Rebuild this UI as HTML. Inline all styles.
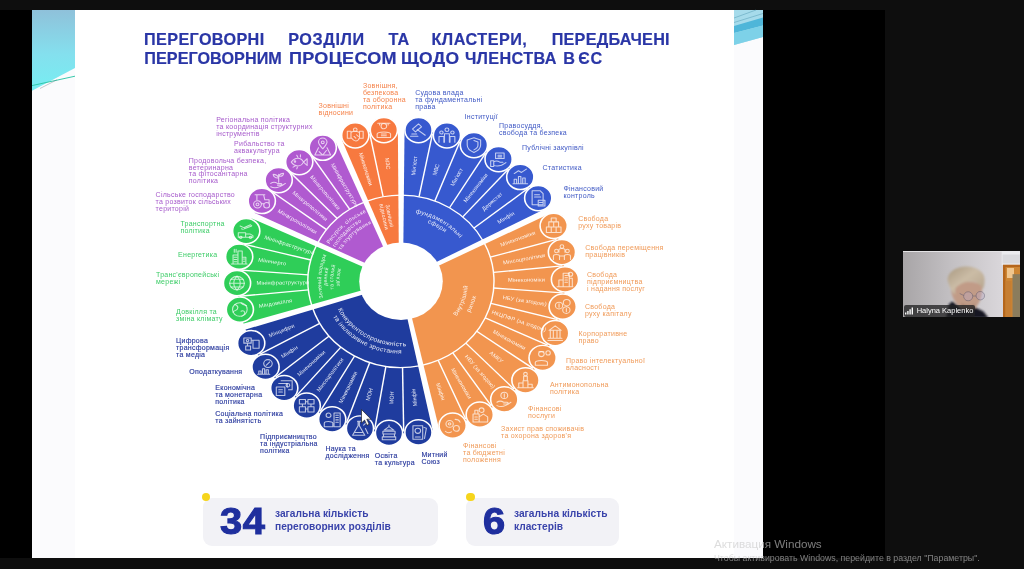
<!DOCTYPE html>
<html lang="uk"><head><meta charset="utf-8"><title>Переговорні розділи та кластери</title>
<style>
*{margin:0;padding:0;box-sizing:border-box}
html,body{width:1024px;height:569px;overflow:hidden;background:#000;font-family:"Liberation Sans",sans-serif}
.stage{position:absolute;left:0;top:0;width:1024px;height:569px;background:#000;overflow:hidden}
.bar-t{position:absolute;left:0;top:0;width:1024px;height:10px;background:#0e0e0e}
.bar-b{position:absolute;left:0;top:558px;width:1024px;height:11px;background:#0e0e0e}
.side{position:absolute;left:885px;top:0;width:139px;height:569px;background:#0e0e0e}
.slide{position:absolute;left:32px;top:10px;width:731px;height:548px;background:#fff}
.slide .l{position:absolute;left:0;top:0;width:43px;height:548px;background:#fbfbfd}
.slide .r{position:absolute;left:702px;top:0;width:29px;height:548px;background:#fbfbfd}
svg.dg,svg.deco{position:absolute;left:0;top:0}
svg.dg{filter:blur(0.35px)}
.lb,.title,.cap,.num{filter:blur(0.3px)}
.title{position:absolute;left:145px;top:29.7px;width:524.6px;color:#2a36a6;font-weight:bold;font-size:16.2px;line-height:18.8px;letter-spacing:0.25px;white-space:nowrap}
.tw{position:absolute;color:#2a36a6;font-weight:bold;font-size:16.2px;line-height:18.8px;white-space:nowrap;filter:blur(0.3px);-webkit-text-stroke:0.2px #2a36a6}
.title .a{text-align:justify;text-align-last:justify;height:18.8px}
.title .b{word-spacing:3.1px}
.lb{position:absolute;font-size:7px;letter-spacing:0.26px;white-space:nowrap;}
.lb.blue{color:#3f58c4}
.lb.orange{color:#f09a58}
.lb.navy{color:#2a3a9e;-webkit-text-stroke:0.15px #2a3a9e}
.lb.green{color:#3bcc66}
.lb.purple{color:#a65acb}
.lb.red{color:#f58148}
.pill{position:absolute;top:498.3px;height:48.2px;background:#f2f2f6;border-radius:9px}
.dot{position:absolute;width:8.2px;height:8.2px;border-radius:50%;background:#f6d51c}
.num{position:absolute;color:#1f2f9e;font-weight:bold;font-size:37.6px;line-height:38px;letter-spacing:0.6px;-webkit-text-stroke:1.1px #1f2f9e;transform:scaleX(1.06);transform-origin:0 0}
.cap{position:absolute;color:#3a44ab;font-weight:bold;font-size:10.2px;line-height:13.2px;white-space:nowrap}
.cam{position:absolute;left:903.2px;top:250.8px;width:117.1px;height:66.3px;overflow:hidden;background:#bdb9bb}
.nm{position:absolute;left:0.4px;top:54.700px;width:71.600px;height:11.600px;background:rgba(34,34,36,.78);border-radius:2px;color:#fff;font-size:7.5px;line-height:11.300px;padding-left:13.100px;white-space:nowrap}
.wm1{position:absolute;left:714px;top:536.5px;font-size:11.7px;color:rgba(200,200,200,.62);white-space:nowrap}
.wm2{position:absolute;left:714px;top:552.5px;font-size:8.8px;color:rgba(200,200,200,.62);white-space:nowrap}
</style></head>
<body><div class="stage">
<div class="bar-t"></div><div class="bar-b"></div><div class="side"></div>
<div class="slide"><div class="l"></div><div class="r"></div></div>
<svg class="deco" width="1024" height="569" viewBox="0 0 1024 569">
<defs><linearGradient id="cy" x1="0" y1="0" x2="0" y2="1"><stop offset="0" stop-color="#8fc1da"/><stop offset="0.55" stop-color="#84e0ee"/><stop offset="1" stop-color="#76eef2"/></linearGradient></defs>
<path d="M32 10H75V68L32 90.800Z" fill="url(#cy)"/>
<path d="M32 85.600L75 76.200" stroke="#2ec6a6" stroke-width="0.95" fill="none"/>
<path d="M40 88.500L57 79.800" stroke="#6b7a86" stroke-width="0.4" fill="none"/>
<path d="M734 10H763V37L734 45Z" fill="#a6dbeb"/>
<path d="M734 26L763 17.500V25.500L734 33Z" fill="#4fb6d9"/>
<path d="M734 33L763 25.500V37L734 45Z" fill="#7dd1e8"/>
<path d="M734 18L756 10M734 22.500L763 13.500" stroke="#4a93ad" stroke-width="0.45" fill="none"/>
</svg>
<div class="ttl"><span class="tw" style="left:144.1px;top:29.7px;letter-spacing:0.36px">ПЕРЕГОВОРНІ</span> <span class="tw" style="left:288.2px;top:29.7px;letter-spacing:0.6px">РОЗДІЛИ</span> <span class="tw" style="left:388.5px;top:29.7px;letter-spacing:0.15px">ТА</span> <span class="tw" style="left:431.5px;top:29.7px;letter-spacing:0.49px">КЛАСТЕРИ,</span> <span class="tw" style="left:551.7px;top:29.7px;letter-spacing:0.25px">ПЕРЕДБАЧЕНІ</span> <span class="tw" style="left:144.3px;top:48.5px;letter-spacing:0.04px">ПЕРЕГОВОРНИМ</span> <span class="tw" style="left:288.5px;top:48.5px;letter-spacing:0.25px;transform:scaleX(1.115);transform-origin:0 0">ПРОЦЕСОМ</span> <span class="tw" style="left:401.2px;top:48.5px;letter-spacing:0.25px;transform:scaleX(1.08);transform-origin:0 0">ЩОДО</span> <span class="tw" style="left:464.9px;top:48.5px;letter-spacing:0.36px">ЧЛЕНСТВА</span> <span class="tw" style="left:563.2px;top:48.5px;letter-spacing:0px">В</span> <span class="tw" style="left:578.3px;top:48.5px;letter-spacing:0.6px">ЄС</span> </div>
<svg class="dg" width="1024" height="569" viewBox="0 0 1024 569">
<g transform="translate(401.0 281.3) scale(1 0.927)">
<path d="M0 0L0.2 -164A164 164 0 0 1 145.73 -75.22Z" fill="#3759cf"/>
<path d="M0 0L145.73 -75.22A164 164 0 0 1 34.94 160.24Z" fill="#f2954f"/>
<path d="M0 0L34.94 160.24A164 164 0 0 1 -156.54 48.91Z" fill="#1f3c9e"/>
<path d="M0 0L-156.54 48.91A164 164 0 0 1 -147.9 -70.86Z" fill="#2fce58"/>
<path d="M0 0L-147.9 -70.86A164 164 0 0 1 -62.36 -151.68Z" fill="#b05ad0"/>
<path d="M0 0L-62.36 -151.68A164 164 0 0 1 0.2 -164Z" fill="#f7793f"/>
<g stroke="#fff" stroke-width="1.45" fill="none" stroke-linecap="butt">
<path d="M0.11 -93A93 93 0 0 1 82.64 -42.65"/>
<path d="M18.06 -91.23L31.46 -158.92"/>
<path d="M33.83 -86.63L58.93 -150.9"/>
<path d="M48.54 -79.33L84.56 -138.18"/>
<path d="M61.74 -69.55L107.55 -121.15"/>
<path d="M73.02 -57.6L127.19 -100.33"/>
<path d="M82.64 -42.65A93 93 0 0 1 19.81 90.87"/>
<path d="M89.29 -25.99L155.54 -45.28"/>
<path d="M92.51 -9.55L161.14 -16.63"/>
<path d="M92.72 7.21L161.51 12.55"/>
<path d="M89.92 23.73L156.64 41.33"/>
<path d="M84.2 39.48L146.68 68.77"/>
<path d="M75.75 53.95L131.96 93.98"/>
<path d="M64.84 66.67L112.95 116.13"/>
<path d="M51.83 77.22L90.28 134.51"/>
<path d="M37.13 85.27L64.67 148.53"/>
<path d="M19.81 90.87A93 93 0 0 1 -88.77 27.73"/>
<path d="M1.54 92.99L2.69 161.98"/>
<path d="M-15.11 91.76L-26.32 159.85"/>
<path d="M-31.27 87.58L-54.48 152.57"/>
<path d="M-46.43 80.58L-80.88 140.37"/>
<path d="M-60.09 70.98L-104.67 123.64"/>
<path d="M-71.81 59.09L-125.09 102.94"/>
<path d="M-81.22 45.3L-141.48 78.91"/>
<path d="M-88.77 27.73A93 93 0 0 1 -83.87 -40.18"/>
<path d="M-92.54 9.24L-161.2 16.09"/>
<path d="M-92.74 -6.97L-161.54 -12.15"/>
<path d="M-90.12 -22.97L-156.98 -40.01"/>
<path d="M-83.87 -40.18A93 93 0 0 1 -35.36 -86.01"/>
<path d="M-74.44 -55.75L-129.66 -97.12"/>
<path d="M-63.78 -67.68L-111.1 -117.9"/>
<path d="M-51.24 -77.61L-89.26 -135.19"/>
<path d="M-35.36 -86.01A93 93 0 0 1 0.11 -93"/>
<path d="M-17.9 -91.26L-31.19 -158.97"/>
</g>
<g fill="#fff">
<path d="M0.89 1.73L163.34 -80.36L160.12 -86.59L-0.89 -1.73Z"/>
<path d="M-1.91 0.42L35.35 178.57L42.2 177.08L1.91 -0.42Z"/>
<path d="M-0.58 -1.86L-174.76 50.93L-172.67 57.62L0.58 1.86Z"/>
<path d="M0.84 -1.76L-162.62 -81.8L-165.65 -75.48L-0.84 1.76Z"/>
<path d="M1.8 -0.74L-65.97 -169.66L-72.45 -166.99L-1.8 0.74Z"/>
<path d="M1.95 0L3.73 -182L-3.28 -182L-1.95 -0Z"/>
</g>
<circle cx="17.51" cy="-163.06" r="13.6" fill="#3759cf" stroke="#fff" stroke-width="1.6"/>
<g transform="translate(17.51 -163.06)" fill="none" stroke="#fff" stroke-opacity="0.7" stroke-width="0.9" stroke-linejoin="round" stroke-linecap="round"><g transform="scale(1.22)"><path d="M-5 -1l5 -4.5 2.5 2.5 -5 4.5zM-1 -0.5l6.5 5M-6.5 5.5h6M-5.5 3.5h4"/></g></g>
<circle cx="45.93" cy="-157.44" r="13.6" fill="#3759cf" stroke="#fff" stroke-width="1.6"/>
<g transform="translate(45.93 -157.44)" fill="none" stroke="#fff" stroke-opacity="0.7" stroke-width="0.9" stroke-linejoin="round" stroke-linecap="round"><g transform="scale(1.22)"><circle cx="0" cy="-5" r="1.6"/><circle cx="-4.5" cy="-2.5" r="1.4"/><circle cx="4.5" cy="-2.5" r="1.4"/><path d="M-6.5 6v-5h4v5M-2 6v-7.5h4v7.5M2.5 6v-5h4v5"/></g></g>
<circle cx="72.92" cy="-146.9" r="13.6" fill="#3759cf" stroke="#fff" stroke-width="1.6"/>
<g transform="translate(72.92 -146.9)" fill="none" stroke="#fff" stroke-opacity="0.7" stroke-width="0.9" stroke-linejoin="round" stroke-linecap="round"><g transform="scale(1.22)"><path d="M0 -6.5l5.5 2v4.5c0 3.5 -3 5.5 -5.5 6.5c-2.500 -1 -5.5 -3 -5.5 -6.5v-4.500zM0 -4l3.300 1.200v3c0 2 -1.700 3.300 -3.300 4"/></g></g>
<circle cx="97.62" cy="-131.78" r="13.6" fill="#3759cf" stroke="#fff" stroke-width="1.6"/>
<g transform="translate(97.62 -131.78)" fill="none" stroke="#fff" stroke-opacity="0.7" stroke-width="0.9" stroke-linejoin="round" stroke-linecap="round"><g transform="scale(1.22)"><path d="M-6.500 1.500h2.500v5h-2.500zM-4 2.500c2 -1.500 4 -0.500 5 0.200h2.500M-4 5.500c3 1.200 6 0.800 10 -2.500M-2.500 -5.500h7v5h-7zM-0.500 -3.500h3M-0.500 -2h3"/></g></g>
<circle cx="119.29" cy="-112.55" r="13.6" fill="#3759cf" stroke="#fff" stroke-width="1.6"/>
<g transform="translate(119.29 -112.55)" fill="none" stroke="#fff" stroke-opacity="0.7" stroke-width="0.9" stroke-linejoin="round" stroke-linecap="round"><g transform="scale(1.22)"><path d="M-6 6h12M-5 6v-4h2v4M-1.500 6v-6.500h2v6.500M2 6v-5h2v5M-5 -3l3.500 -2.500 2.500 1.500 4 -3"/></g></g>
<circle cx="137.23" cy="-89.8" r="13.6" fill="#3759cf" stroke="#fff" stroke-width="1.6"/>
<g transform="translate(137.23 -89.8)" fill="none" stroke="#fff" stroke-opacity="0.7" stroke-width="0.9" stroke-linejoin="round" stroke-linecap="round"><g transform="scale(1.22)"><path d="M-5 -6.500h6.500l2.500 2.500v10h-9zM-3 -3h4M-3 -1h5M0 2h5.500v5h-5.500zM1 4h3"/></g></g>
<circle cx="152.69" cy="-59.84" r="13.6" fill="#f2954f" stroke="#fff" stroke-width="1.6"/>
<g transform="translate(152.69 -59.84)" fill="none" stroke="#fff" stroke-opacity="0.7" stroke-width="0.9" stroke-linejoin="round" stroke-linecap="round"><g transform="scale(1.22)"><path d="M-6 6v-5h4v5zM-2 6v-5h4v5zM2 6v-5h4v5zM-4 1v-4.500h4v4.500M0 1v-4.500h4v4.500M-2 -3.500v-3.500h4v3.500"/></g></g>
<circle cx="160.95" cy="-31.47" r="13.6" fill="#f2954f" stroke="#fff" stroke-width="1.6"/>
<g transform="translate(160.95 -31.47)" fill="none" stroke="#fff" stroke-opacity="0.7" stroke-width="0.9" stroke-linejoin="round" stroke-linecap="round"><g transform="scale(1.22)"><circle cx="0" cy="-5" r="1.500"/><circle cx="-4.500" cy="-1" r="1.500"/><circle cx="4.500" cy="-1" r="1.500"/><path d="M-2.500 0v-2c0 -1.500 5 -1.500 5 0v2M-7 6.500v-3c0 -1.800 5 -1.800 5 0v3M2 6.500v-3c0 -1.800 5 -1.800 5 0v3M-1.500 3.500h3"/></g></g>
<circle cx="163.99" cy="-2.07" r="13.6" fill="#f2954f" stroke="#fff" stroke-width="1.6"/>
<g transform="translate(163.99 -2.07)" fill="none" stroke="#fff" stroke-opacity="0.7" stroke-width="0.9" stroke-linejoin="round" stroke-linecap="round"><g transform="scale(1.22)"><path d="M-6.500 6.500h13M-5 6.500v-6h3.500v6M-1.500 6.500v-12h5v12M3.500 6.500v-7.500h2.500v7.500M0 -3.500h2M0 -1.500h2M0 0.500h2M0 2.500h2"/><circle cx="4.500" cy="-4.500" r="1.800"/></g></g>
<circle cx="161.7" cy="27.39" r="13.6" fill="#f2954f" stroke="#fff" stroke-width="1.6"/>
<g transform="translate(161.7 27.39)" fill="none" stroke="#fff" stroke-opacity="0.7" stroke-width="0.9" stroke-linejoin="round" stroke-linecap="round"><g transform="scale(1.22)"><circle cx="-3" cy="-1" r="3"/><circle cx="3.300" cy="-3.500" r="2.800"/><circle cx="3" cy="3" r="3"/><path d="M-3 -2.500v3M3 1.500v3"/></g></g>
<circle cx="154.16" cy="55.96" r="13.6" fill="#f2954f" stroke="#fff" stroke-width="1.6"/>
<g transform="translate(154.16 55.96)" fill="none" stroke="#fff" stroke-opacity="0.7" stroke-width="0.9" stroke-linejoin="round" stroke-linecap="round"><g transform="scale(1.22)"><path d="M-6 6.500h12M-5.500 4.500h11M-5 -2.500h10l-5 -4zM-4 -2.500v7M-1.500 -2.500v7M1.500 -2.500v7M4 -2.500v7"/></g></g>
<circle cx="141.61" cy="82.72" r="13.6" fill="#f2954f" stroke="#fff" stroke-width="1.6"/>
<g transform="translate(141.61 82.72)" fill="none" stroke="#fff" stroke-opacity="0.7" stroke-width="0.9" stroke-linejoin="round" stroke-linecap="round"><g transform="scale(1.22)"><circle cx="-1" cy="-3.500" r="2.300"/><path d="M-6 6.500v-2.500c0 -2.500 10 -2.500 10 0v2.500zM-3 -5.500h4"/><circle cx="4.500" cy="-4.500" r="1.800"/></g></g>
<circle cx="124.47" cy="106.78" r="13.6" fill="#f2954f" stroke="#fff" stroke-width="1.6"/>
<g transform="translate(124.47 106.78)" fill="none" stroke="#fff" stroke-opacity="0.7" stroke-width="0.9" stroke-linejoin="round" stroke-linecap="round"><g transform="scale(1.22)"><circle cx="0" cy="-5.500" r="1.500"/><path d="M-1.500 -3.500h3v4h-3zM-6.500 6.500h13M-5.500 6.500v-4h3.500v4M-2 6.500v-6h4v6M2 6.500v-3h3.500v3"/></g></g>
<circle cx="103.29" cy="127.39" r="13.6" fill="#f2954f" stroke="#fff" stroke-width="1.6"/>
<g transform="translate(103.29 127.39)" fill="none" stroke="#fff" stroke-opacity="0.7" stroke-width="0.9" stroke-linejoin="round" stroke-linecap="round"><g transform="scale(1.22)"><circle cx="0" cy="-3.500" r="2.800"/><path d="M0 -5v3M-6 2.500c2 -1.500 4 -1 5.500 0h2.500c1.500 0 1.500 1.500 0 1.500h-2.500M-6 5.500c3 1.500 7 1 11.500 -3"/></g></g>
<circle cx="78.75" cy="143.86" r="13.6" fill="#f2954f" stroke="#fff" stroke-width="1.6"/>
<g transform="translate(78.75 143.86)" fill="none" stroke="#fff" stroke-opacity="0.7" stroke-width="0.9" stroke-linejoin="round" stroke-linecap="round"><g transform="scale(1.22)"><path d="M-5.500 6.500v-7h5v7zM-0.500 6.500v-4.500l3.500 -2.500 3.500 2.500v4.500zM-4 -0.500v-3.500h2.500v3.500"/><circle cx="1.500" cy="-4" r="2"/><path d="M-4 2h2M-4 4h2"/></g></g>
<circle cx="51.66" cy="155.65" r="13.6" fill="#f2954f" stroke="#fff" stroke-width="1.6"/>
<g transform="translate(51.66 155.65)" fill="none" stroke="#fff" stroke-opacity="0.7" stroke-width="0.9" stroke-linejoin="round" stroke-linecap="round"><g transform="scale(1.22)"><circle cx="-2.500" cy="-1.500" r="3"/><circle cx="-2.500" cy="-1.500" r="1"/><circle cx="3" cy="2.500" r="2.500"/><path d="M-6 5c1.500 1.500 3.500 1.500 5 0.500M2 -5.500c2 0 3.500 1 4 2.500"/></g></g>
<circle cx="17.43" cy="163.07" r="13.6" fill="#1f3c9e" stroke="#fff" stroke-width="1.6"/>
<g transform="translate(17.43 163.07)" fill="none" stroke="#fff" stroke-opacity="0.7" stroke-width="0.9" stroke-linejoin="round" stroke-linecap="round"><g transform="scale(1.22)"><path d="M-4.500 -6h8v12h-8zM-2.500 4h4"/><circle cx="-0.500" cy="-1.500" r="2.300"/><path d="M4.500 -4.500l2 0.800 -1.500 9"/></g></g>
<circle cx="-12.01" cy="163.56" r="13.6" fill="#1f3c9e" stroke="#fff" stroke-width="1.6"/>
<g transform="translate(-12.01 163.56)" fill="none" stroke="#fff" stroke-opacity="0.7" stroke-width="0.9" stroke-linejoin="round" stroke-linecap="round"><g transform="scale(1.22)"><path d="M-5.500 6h11v-2.500h-11zM-4.500 3.500h9v-2.500h-9zM-5 1h10v-2.500h-10zM-4 -2.500l4 -3 4 3zM0 -5.500v-1.500"/></g></g>
<circle cx="-41.06" cy="158.78" r="13.6" fill="#1f3c9e" stroke="#fff" stroke-width="1.6"/>
<g transform="translate(-41.06 158.78)" fill="none" stroke="#fff" stroke-opacity="0.7" stroke-width="0.9" stroke-linejoin="round" stroke-linecap="round"><g transform="scale(1.22)"><path d="M-2 -6.500h3M-1.500 -6.500v4l-4.500 8.500h10l-4.500 -8.500v-4M-4.500 3.500h7M3 -3l2 -2M4.500 0l2 4.500"/></g></g>
<circle cx="-68.79" cy="148.88" r="13.6" fill="#1f3c9e" stroke="#fff" stroke-width="1.6"/>
<g transform="translate(-68.79 148.88)" fill="none" stroke="#fff" stroke-opacity="0.7" stroke-width="0.9" stroke-linejoin="round" stroke-linecap="round"><g transform="scale(1.22)"><circle cx="-3" cy="-3.500" r="2"/><path d="M-6.500 6.500v-3c0 -2 7 -2 7 0v3zM1.500 6.500v-12h5v12zM3 -3.500h2M3 -1.500h2M3 0.500h2M3 2.500h2"/></g></g>
<circle cx="-94.3" cy="134.18" r="13.6" fill="#1f3c9e" stroke="#fff" stroke-width="1.6"/>
<g transform="translate(-94.3 134.18)" fill="none" stroke="#fff" stroke-opacity="0.7" stroke-width="0.9" stroke-linejoin="round" stroke-linecap="round"><g transform="scale(1.22)"><path d="M-6 -5.500h5v4h-5zM1 -5.500h5v4h-5zM-6 1h5v4.500h-5zM1 1h5v4.500h-5zM-1 -3.500h2M-1 3h2M-3.500 -1.500v2.500M3.500 -1.500v2.500"/></g></g>
<circle cx="-116.77" cy="115.15" r="13.6" fill="#1f3c9e" stroke="#fff" stroke-width="1.6"/>
<g transform="translate(-116.77 115.15)" fill="none" stroke="#fff" stroke-opacity="0.7" stroke-width="0.9" stroke-linejoin="round" stroke-linecap="round"><g transform="scale(1.22)"><path d="M-6.500 -1h7v7.500h-7zM-4.500 -4h7v3M-2.500 -6.500h9v8h-3M-4.500 1.500h3M-4.500 3.500h3"/><circle cx="3" cy="-2.500" r="1.500"/></g></g>
<circle cx="-135.48" cy="92.42" r="13.6" fill="#1f3c9e" stroke="#fff" stroke-width="1.6"/>
<g transform="translate(-135.48 92.42)" fill="none" stroke="#fff" stroke-opacity="0.7" stroke-width="0.9" stroke-linejoin="round" stroke-linecap="round"><g transform="scale(1.22)"><circle cx="2" cy="-3" r="3.500"/><path d="M0.500 -1.500l3 -3M-6.500 6.500h10M-5.500 6.500v-3h1.800v3M-2.500 6.500v-5h1.800v5M0.500 6.500v-4h1.800v4"/></g></g>
<circle cx="-149.82" cy="66.7" r="13.6" fill="#1f3c9e" stroke="#fff" stroke-width="1.6"/>
<g transform="translate(-149.82 66.7)" fill="none" stroke="#fff" stroke-opacity="0.7" stroke-width="0.9" stroke-linejoin="round" stroke-linecap="round"><g transform="scale(1.22)"><path d="M-6 -4.500h6v4.500h-6zM1.500 -2.500h5v7h-5zM-4.500 2.500h4v3.500h-4zM-3 0v2.500M0 -2.500h1.500"/><circle cx="-3" cy="-2.300" r="1"/></g></g>
<circle cx="-161.15" cy="30.45" r="13.6" fill="#2fce58" stroke="#fff" stroke-width="1.6"/>
<g transform="translate(-161.15 30.45)" fill="none" stroke="#fff" stroke-opacity="0.7" stroke-width="0.9" stroke-linejoin="round" stroke-linecap="round"><g transform="scale(1.22)"><circle cx="0" cy="0" r="6"/><path d="M-4 -4.500c2 1 3 2 2 4s-3 1 -3.500 3M1 -6c1 2 3 2 4.500 2.500M1 1.500c1.500 -1 3.500 0 3 2s-2 2 -2.500 2.500"/></g></g>
<circle cx="-163.99" cy="2" r="13.6" fill="#2fce58" stroke="#fff" stroke-width="1.6"/>
<g transform="translate(-163.99 2)" fill="none" stroke="#fff" stroke-opacity="0.7" stroke-width="0.9" stroke-linejoin="round" stroke-linecap="round"><g transform="scale(1.22)"><circle cx="0" cy="0" r="6"/><path d="M-6 0h12M0 -6c-3.500 3 -3.500 9 0 12M0 -6c3.500 3 3.500 9 0 12M-5 -3.500h10M-5 3.500h10"/></g></g>
<circle cx="-161.84" cy="-26.5" r="13.6" fill="#2fce58" stroke="#fff" stroke-width="1.6"/>
<g transform="translate(-161.84 -26.5)" fill="none" stroke="#fff" stroke-opacity="0.7" stroke-width="0.9" stroke-linejoin="round" stroke-linecap="round"><g transform="scale(1.22)"><path d="M-6.500 6.500h13M-5 6.500v-8h4v8M-1 6.500v-11.500h3.500v11.500M2.500 6.500v-6h3v6M-4 -4v-2.500M-2.500 -4v-2.500M-4 0.500h2M-4 2.500h2M-4 4.500h2M3.500 2h1M3.500 4h1"/></g></g>
<circle cx="-154.78" cy="-54.2" r="13.6" fill="#2fce58" stroke="#fff" stroke-width="1.6"/>
<g transform="translate(-154.78 -54.2)" fill="none" stroke="#fff" stroke-opacity="0.7" stroke-width="0.9" stroke-linejoin="round" stroke-linecap="round"><g transform="scale(1.22)"><path d="M-6.500 5.500v-4h6v4zM-0.500 5.500v-3h3.500l2.500 1.500v1.500zM-5 -4.500l3 1.500 5.500 -2.500 1 1 -6 2.500M-4 -2l1.500 0.500"/><circle cx="-4.500" cy="5.500" r="1"/><circle cx="3.500" cy="5.500" r="1"/></g></g>
<circle cx="-139.23" cy="-86.66" r="13.6" fill="#b05ad0" stroke="#fff" stroke-width="1.6"/>
<g transform="translate(-139.23 -86.66)" fill="none" stroke="#fff" stroke-opacity="0.7" stroke-width="0.9" stroke-linejoin="round" stroke-linecap="round"><g transform="scale(1.22)"><circle cx="-3.500" cy="3" r="3.200"/><circle cx="-3.500" cy="3" r="1.200"/><circle cx="4" cy="3.800" r="2.400"/><path d="M-4 -1v-4.500h5.500l1 4.500h3.500v2.500M-5.500 -5.500h8M0 2.500h1.500"/></g></g>
<circle cx="-122.32" cy="-109.24" r="13.6" fill="#b05ad0" stroke="#fff" stroke-width="1.6"/>
<g transform="translate(-122.32 -109.24)" fill="none" stroke="#fff" stroke-opacity="0.7" stroke-width="0.9" stroke-linejoin="round" stroke-linecap="round"><g transform="scale(1.22)"><path d="M0 2v-7M0 -2c-1 -2.500 -3 -3 -4.500 -3c0 2 2 3.500 4.500 3zM0 -3.500c1 -2 2.500 -2.500 4 -2.500c0 1.800 -1.500 3.200 -4 2.500zM-6.500 3c2 -1.500 4 -1 5.500 0h2.500c1.500 0 1.500 1.500 0 1.500h-2.500M-6.500 6c3 1.500 7 1 12 -3"/></g></g>
<circle cx="-101.79" cy="-128.58" r="13.6" fill="#b05ad0" stroke="#fff" stroke-width="1.6"/>
<g transform="translate(-101.79 -128.58)" fill="none" stroke="#fff" stroke-opacity="0.7" stroke-width="0.9" stroke-linejoin="round" stroke-linecap="round"><g transform="scale(1.22)"><path d="M-6.500 0c3 -4.500 8 -4.500 10 0c-2 4.500 -7 4.500 -10 0zM3.500 0l3 -3v6zM-2 -6l1 2M1 -6.500l0 2M-5 4.500l1.500 -1M-2 6l0.500 -1.500"/><circle cx="-3.500" cy="-0.500" r="0.600"/></g></g>
<circle cx="-78.25" cy="-144.13" r="13.6" fill="#b05ad0" stroke="#fff" stroke-width="1.6"/>
<g transform="translate(-78.25 -144.13)" fill="none" stroke="#fff" stroke-opacity="0.7" stroke-width="0.9" stroke-linejoin="round" stroke-linecap="round"><g transform="scale(1.22)"><path d="M0 1c-3 -3.500 -3.500 -5 -3.500 -6a3.500 3.500 0 0 1 7 0c0 1 -0.500 2.500 -3.500 6zM-3.500 0l-3 6.500h13l-3 -6.500M-3 3.500l3 3 3 -4"/><circle cx="0" cy="-4.800" r="1.200"/></g></g>
<circle cx="-45.75" cy="-157.49" r="13.6" fill="#f7793f" stroke="#fff" stroke-width="1.6"/>
<g transform="translate(-45.75 -157.49)" fill="none" stroke="#fff" stroke-opacity="0.7" stroke-width="0.9" stroke-linejoin="round" stroke-linecap="round"><g transform="scale(1.22)"><path d="M-6.500 -3.500h3v6h-3zM3.500 -3.500h3v6h-3zM-3.500 -2.500c2 -1.500 4 -1.500 7 0M-3.500 2c1.500 2 3 3 4 3s2.500 -1.500 3 -3M-1 1l1.500 1.500M1 -0.500l1.500 1.500"/><circle cx="0" cy="-5" r="1.500"/></g></g>
<circle cx="-17.14" cy="-163.1" r="13.6" fill="#f7793f" stroke="#fff" stroke-width="1.6"/>
<g transform="translate(-17.14 -163.1)" fill="none" stroke="#fff" stroke-opacity="0.7" stroke-width="0.9" stroke-linejoin="round" stroke-linecap="round"><g transform="scale(1.22)"><circle cx="0" cy="-3.500" r="2.300"/><path d="M-5 -6h10M-3.500 -6v1.500M3.500 -6v1.500M-5.500 6.500v-3c0 -2.500 11 -2.500 11 0v3zM-2 3.500h4M-2 5h4"/></g></g>
<circle cx="0" cy="0" r="41.8" fill="#fff"/>
<g font-family="'Liberation Sans',sans-serif" font-size="5.7" fill="#fff" fill-opacity="0.9" letter-spacing="0.15">
<text text-anchor="middle" transform="rotate(-83.87) translate(125.5 1.9)">Мін'юст</text>
<text text-anchor="middle" transform="rotate(-73.74) translate(125.5 1.9)">МВС</text>
<text text-anchor="middle" transform="rotate(-63.6) translate(125.5 1.9)">Мін'юст</text>
<text text-anchor="middle" transform="rotate(-53.47) translate(125.5 1.9)">Мінекономіки</text>
<text text-anchor="middle" transform="rotate(-43.33) translate(125.5 1.9)">Держстат</text>
<text text-anchor="middle" transform="rotate(-33.2) translate(125.5 1.9)">Мінфін</text>
<text text-anchor="middle" transform="rotate(-21.4) translate(125.5 1.9)">Мінекономіки</text>
<text text-anchor="middle" transform="rotate(-11.06) translate(125.5 1.9)">Мінсоцполітики</text>
<text text-anchor="middle" transform="rotate(-0.72) translate(125.5 1.9)">Мінекономіки</text>
<text text-anchor="middle" transform="rotate(9.61) translate(125.5 1.9)">НБУ (за згодою)</text>
<text text-anchor="middle" transform="rotate(19.95) translate(125.5 1.9)">НКЦПФР (за згодою)</text>
<text text-anchor="middle" transform="rotate(30.29) translate(125.5 1.9)">Мінекономіки</text>
<text text-anchor="middle" transform="rotate(40.63) translate(125.5 1.9)">АМКУ</text>
<text text-anchor="middle" transform="rotate(50.96) translate(125.5 1.9)">НБУ (за згодою)</text>
<text text-anchor="middle" transform="rotate(61.3) translate(125.5 1.9)">Мінекономіки</text>
<text text-anchor="middle" transform="rotate(71.64) translate(125.5 1.9)">Мінфін</text>
<text text-anchor="middle" transform="rotate(263.9) translate(-126 1.9)">Мінфін</text>
<text text-anchor="middle" transform="rotate(274.2) translate(-126 1.9)">МОН</text>
<text text-anchor="middle" transform="rotate(284.5) translate(-126 1.9)">МОН</text>
<text text-anchor="start" transform="rotate(294.8) translate(-144.5 1.9)">Мінекономіки</text>
<text text-anchor="start" transform="rotate(305.1) translate(-144.5 1.9)">Мінсоцполітики</text>
<text text-anchor="start" transform="rotate(315.4) translate(-144.5 1.9)">Мінекономіки</text>
<text text-anchor="start" transform="rotate(325.7) translate(-144.5 1.9)">Мінфін</text>
<text text-anchor="start" transform="rotate(336) translate(-144.5 1.9)">Мінцифри</text>
<text text-anchor="start" transform="rotate(349.3) translate(-144.5 1.9)">Міндовкілля</text>
<text text-anchor="start" transform="rotate(359.3) translate(-144.5 1.9)">Мінінфраструктури</text>
<text text-anchor="start" transform="rotate(369.3) translate(-144.5 1.9)">Міненерго</text>
<text text-anchor="start" transform="rotate(379.3) translate(-144.5 1.9)">Мінінфраструктури</text>
<text text-anchor="start" transform="rotate(391.9) translate(-144.5 1.9)">Мінагрополітики</text>
<text text-anchor="start" transform="rotate(401.77) translate(-144.5 1.9)">Мінагрополітики</text>
<text text-anchor="start" transform="rotate(411.63) translate(-144.5 1.9)">Мінагрополітики</text>
<text text-anchor="start" transform="rotate(421.5) translate(-144.5 1.9)">Мінінфраструктури</text>
<text text-anchor="start" transform="rotate(433.8) translate(-144.5 1.9)">Мінекономіки</text>
<text text-anchor="middle" transform="rotate(444) translate(-127.5 1.9)">МЗС</text>
</g>
<defs>
<path id="pb1" d="M-11.22 -74.16A75 75 0 0 1 71.08 -23.92"/>
<path id="pb2" d="M-10.24 -67.73A68.5 68.5 0 0 1 64.92 -21.85"/>
<path id="pp1" d="M-71.51 -40.13A82 82 0 0 1 -14.24 -80.75"/>
<path id="pp2" d="M-65.67 -36.85A75.3 75.3 0 0 1 -13.08 -74.16"/>
<path id="pp3" d="M-60 -33.67A68.8 68.8 0 0 1 -11.95 -67.75"/>
<path id="po1" d="M34.51 57.43A67 67 0 0 0 62.55 -24.01"/>
<path id="po2" d="M39.55 65.83A76.8 76.8 0 0 0 71.7 -27.52"/>
<path id="pn1" d="M-69.73 6.1A70 70 0 0 0 29.58 63.44"/>
<path id="pn2" d="M-77.7 6.8A78 78 0 0 0 32.96 70.69"/>
<path id="pg1" d="M-64.56 46.91A79.8 79.8 0 0 1 -57.4 -55.43"/>
<path id="pg2" d="M-59.87 43.5A74 74 0 0 1 -53.23 -51.4"/>
<path id="pg3" d="M-54.85 39.85A67.8 67.8 0 0 1 -48.77 -47.1"/>
<path id="pg4" d="M-49.75 36.15A61.5 61.5 0 0 1 -44.24 -42.72"/>
</defs>
<g font-family="'Liberation Sans',sans-serif" fill="#fff" fill-opacity="0.9" letter-spacing="0.32">
<text font-size="6.3" text-anchor="middle"><textPath href="#pb1" startOffset="50%">фундаментальні</textPath></text>
<text font-size="6.3" text-anchor="middle"><textPath href="#pb2" startOffset="50%">сфери</textPath></text>
<text font-size="5.6" text-anchor="start"><textPath href="#pp1" startOffset="0">Ресурси, сільське</textPath></text>
<text font-size="5.6" text-anchor="start"><textPath href="#pp2" startOffset="0">господарство</textPath></text>
<text font-size="5.6" text-anchor="start"><textPath href="#pp3" startOffset="0">та згуртування</textPath></text>
<text font-size="6.3" text-anchor="middle"><textPath href="#po1" startOffset="50%">Внутрішній</textPath></text>
<text font-size="6.3" text-anchor="middle"><textPath href="#po2" startOffset="50%">ринок</textPath></text>
<text font-size="6.6" text-anchor="middle"><textPath href="#pn1" startOffset="50%">Конкурентоспроможність</textPath></text>
<text font-size="6.6" text-anchor="middle"><textPath href="#pn2" startOffset="50%">та інклюзивне зростання</textPath></text>
<text font-size="5.3" text-anchor="middle"><textPath href="#pg1" startOffset="50%">Зелений порядок</textPath></text>
<text font-size="5.3" text-anchor="middle"><textPath href="#pg2" startOffset="50%">денний</textPath></text>
<text font-size="5.3" text-anchor="middle"><textPath href="#pg3" startOffset="50%">та сталий</textPath></text>
<text font-size="5.3" text-anchor="middle"><textPath href="#pg4" startOffset="50%">зв'язок</textPath></text>
<text font-size="5.5" text-anchor="middle" transform="rotate(438.9) translate(-71.5 -0.6)">Зовнішні</text>
<text font-size="5.5" text-anchor="middle" transform="rotate(438.9) translate(-71.5 5.0)">відносини</text>
</g>
</g>
<path d="M361.5 409.5v13.500l3.100 -2.900 2.300 5.200 2.200 -1 -2.300 -5.100h4.200z" fill="#fff" stroke="#222" stroke-width="0.7" stroke-linejoin="round"/>
</svg>
<div class="lb red" style="left:362.9px;top:83.42px;line-height:6.95px"><div>Зовнішня,</div><div>безпекова</div><div>та оборонна</div><div>політика</div></div>
<div class="lb red" style="left:318.6px;top:102.55px;line-height:6.95px"><div>Зовнішні</div><div>відносини</div></div>
<div class="lb blue" style="left:415.2px;top:90.38px;line-height:6.95px"><div>Судова влада</div><div>та фундаментальні</div><div>права</div></div>
<div class="lb blue" style="left:464.6px;top:114.33px;line-height:6.95px"><div>Інституції</div></div>
<div class="lb blue" style="left:499.0px;top:123.05px;line-height:6.95px"><div>Правосуддя,</div><div>свобода та безпека</div></div>
<div class="lb blue" style="left:522.0px;top:144.92px;line-height:6.95px"><div>Публічні закупівлі</div></div>
<div class="lb blue" style="left:542.5px;top:165.22px;line-height:6.95px"><div>Статистика</div></div>
<div class="lb blue" style="left:563.4px;top:185.80px;line-height:6.95px"><div>Фінансовий</div><div>контроль</div></div>
<div class="lb orange" style="left:578.2px;top:216.20px;line-height:6.95px"><div>Свобода</div><div>руху товарів</div></div>
<div class="lb orange" style="left:585.3px;top:245.30px;line-height:6.95px"><div>Свобода переміщення</div><div>працівників</div></div>
<div class="lb orange" style="left:587.0px;top:271.62px;line-height:6.95px"><div>Свобода</div><div>підприємництва</div><div>і надання послуг</div></div>
<div class="lb orange" style="left:585.0px;top:304.30px;line-height:6.95px"><div>Свобода</div><div>руху капіталу</div></div>
<div class="lb orange" style="left:578.5px;top:331.15px;line-height:6.95px"><div>Корпоративне</div><div>право</div></div>
<div class="lb orange" style="left:566.0px;top:357.65px;line-height:6.95px"><div>Право інтелектуальної</div><div>власності</div></div>
<div class="lb orange" style="left:549.9px;top:381.90px;line-height:6.95px"><div>Антимонопольна</div><div>політика</div></div>
<div class="lb orange" style="left:528.0px;top:405.95px;line-height:6.95px"><div>Фінансові</div><div>послуги</div></div>
<div class="lb orange" style="left:501.0px;top:425.55px;line-height:6.95px"><div>Захист прав споживачів</div><div>та охорона здоров'я</div></div>
<div class="lb orange" style="left:463.0px;top:442.62px;line-height:6.95px"><div>Фінансові</div><div>та бюджетні</div><div>положення</div></div>
<div class="lb navy" style="left:421.5px;top:452.35px;line-height:6.95px"><div>Митний</div><div>Союз</div></div>
<div class="lb navy" style="left:374.8px;top:452.55px;line-height:6.95px"><div>Освіта</div><div>та культура</div></div>
<div class="lb navy" style="left:325.4px;top:446.30px;line-height:6.95px"><div>Наука та</div><div>дослідження</div></div>
<div class="lb navy" style="left:260.1px;top:433.62px;line-height:6.95px"><div>Підприємництво</div><div>та індустріальна</div><div>політика</div></div>
<div class="lb navy" style="left:215.3px;top:411.00px;line-height:6.95px"><div>Соціальна політика</div><div>та зайнятість</div></div>
<div class="lb navy" style="left:215.3px;top:385.47px;line-height:6.95px"><div>Економічна</div><div>та монетарна</div><div>політика</div></div>
<div class="lb navy" style="left:189.3px;top:368.52px;line-height:6.95px"><div>Оподаткування</div></div>
<div class="lb navy" style="left:176.1px;top:337.67px;line-height:6.95px"><div>Цифрова</div><div>трансформація</div><div>та медіа</div></div>
<div class="lb green" style="left:176.1px;top:309.20px;line-height:6.95px"><div>Довкілля та</div><div>зміна клімату</div></div>
<div class="lb green" style="left:156.0px;top:271.80px;line-height:6.95px"><div>Транс'європейські</div><div>мережі</div></div>
<div class="lb green" style="left:178.1px;top:252.03px;line-height:6.95px"><div>Енергетика</div></div>
<div class="lb green" style="left:180.4px;top:220.95px;line-height:6.95px"><div>Транспортна</div><div>політика</div></div>
<div class="lb purple" style="left:155.6px;top:191.92px;line-height:6.95px"><div>Сільське господарство</div><div>та розвиток сільських</div><div>територій</div></div>
<div class="lb purple" style="left:188.8px;top:157.57px;line-height:6.95px"><div>Продовольча безпека,</div><div>ветеринарна</div><div>та фітосанітарна</div><div>політика</div></div>
<div class="lb purple" style="left:234.1px;top:141.30px;line-height:6.95px"><div>Рибальство та</div><div>аквакультура</div></div>
<div class="lb purple" style="left:216.2px;top:116.83px;line-height:6.95px"><div>Регіональна політика</div><div>та координація структурних</div><div>інструментів</div></div>
<div class="pill" style="left:202.700px;width:235.600px"></div>
<div class="pill" style="left:465.700px;width:153.200px"></div>
<div class="dot" style="left:202px;top:492.900px"></div>
<div class="dot" style="left:466.400px;top:492.900px"></div>
<div class="num" style="left:219.500px;top:502.200px">34</div>
<div class="num" style="left:483px;top:502.200px">6</div>
<div class="cap" style="left:275px;top:507.200px">загальна кількість<br>переговорних розділів</div>
<div class="cap" style="left:514px;top:507.200px">загальна кількість<br>кластерів</div>
<div class="cam"><svg width="117.500" height="66.500" viewBox="0 0 117.500 66.500">
<defs><linearGradient id="wl" x1="0" y1="0" x2="1" y2="0"><stop offset="0" stop-color="#a8a5a7"/><stop offset="0.4" stop-color="#c2bfc2"/><stop offset="0.85" stop-color="#dad7db"/><stop offset="1" stop-color="#dedbde"/></linearGradient>
<linearGradient id="hr" x1="0" y1="0" x2="1" y2="1"><stop offset="0" stop-color="#a89880"/><stop offset="0.45" stop-color="#cbbca6"/><stop offset="1" stop-color="#b3a189"/></linearGradient>
<filter id="bl" x="-20%" y="-20%" width="140%" height="140%"><feGaussianBlur stdDeviation="0.8"/></filter>
<filter id="bl2" x="-20%" y="-20%" width="140%" height="140%"><feGaussianBlur stdDeviation="0.45"/></filter></defs>
<rect width="117.500" height="66.500" fill="url(#wl)"/>
<rect x="0" y="0" width="117.500" height="1" fill="#e4e3e5"/>
<g filter="url(#bl2)">
<rect x="98.700" y="-1" width="20" height="15" fill="#ebebee"/>
<rect x="99.500" y="3.500" width="19" height="9" fill="#d9d9dd"/>
<rect x="100" y="13.700" width="19" height="54" fill="#b5661b"/>
<rect x="102.500" y="16" width="16" height="52" fill="#cd8636"/>
<rect x="104" y="17" width="7" height="10" fill="#f0c68e"/>
<rect x="109.500" y="23.200" width="9" height="45" fill="#8b7b5c"/>
<rect x="102.500" y="30" width="6" height="38" fill="#c67e30"/>
</g>
<g filter="url(#bl)">
<path d="M43 67l3 -14 3.500 -2.500 9 7 14 -1 8 4 5 6.500z" fill="#181822"/>
<path d="M48 36c0 -6 30 -8 31 0c0.500 8 -2 16 -6 20c-5 3 -14 2 -18 -2c-4 -4 -7 -10 -7 -18z" fill="#c19b87"/>
<path d="M58 52c4 3 10 3 14 1l-1 4c-4 2 -9 2 -12 0z" fill="#a8826e"/>
<path d="M45 31c-2 -8 6 -15 17 -15.500c11 -0.500 19 5 19.500 12c0.300 4 -0.500 8 -1.500 11c-2 -5 -6 -8 -12 -8c-6 0 -11 2 -15 6c-1 3 -1 5 -0.500 7.500c-4 -3 -6 -8 -7.500 -13z" fill="url(#hr)"/>
</g>
<g fill="none" stroke="#5a5670" stroke-opacity="0.7" stroke-width="0.7" filter="url(#bl2)"><circle cx="65.200" cy="45.300" r="4.500"/><circle cx="77.300" cy="44.700" r="4.200"/><path d="M69.700 45h3.500M60.700 44.500l-4 -2"/></g>
<g fill="#b9a9c8" fill-opacity="0.35" filter="url(#bl2)"><circle cx="65.200" cy="45.300" r="4"/><circle cx="77.300" cy="44.700" r="3.700"/></g>
</svg>
<div class="nm">Halyna Kaplenko</div>
<svg style="position:absolute;left:1.600px;top:56.600px" width="10" height="8" viewBox="0 0 10 8"><path d="M0.700 7.500v-2M2.900 7.500v-3.500M5.100 7.500v-5.200M7.300 7.500v-7" stroke="#fff" stroke-width="1.350" fill="none"/></svg>
</div>
<div class="wm1">Активация Windows</div>
<div class="wm2">Чтобы активировать Windows, перейдите в раздел "Параметры".</div>
</div></body></html>
